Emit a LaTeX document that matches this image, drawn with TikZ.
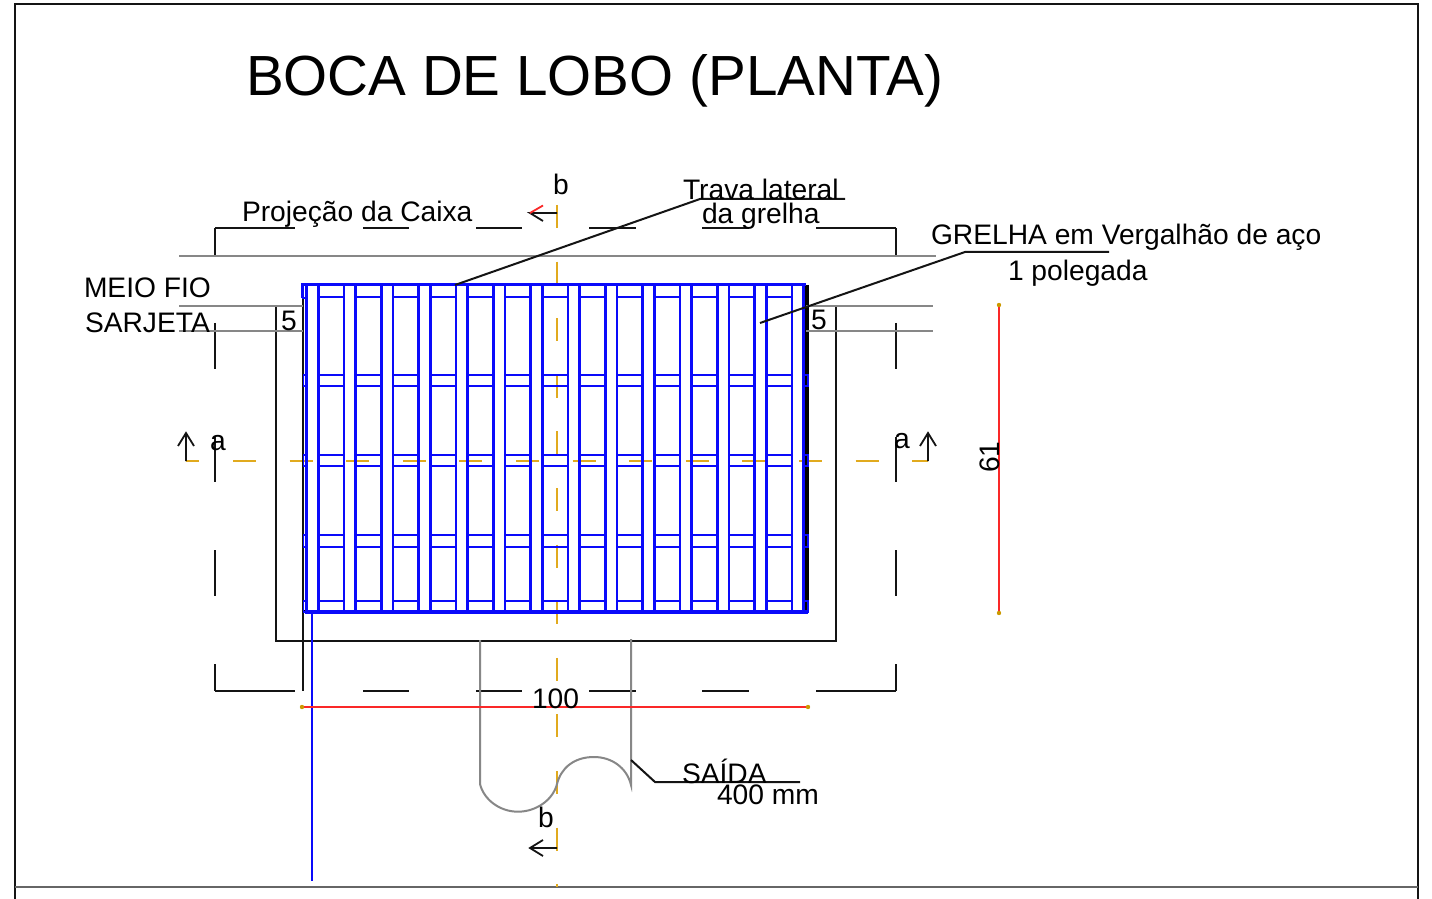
\documentclass[tikz,border=0pt]{standalone}
\usepackage{fontspec}
\setmainfont{Liberation Sans}
\definecolor{cad}{RGB}{20,20,20}
\definecolor{gr}{RGB}{135,135,135}
\definecolor{org}{RGB}{225,170,30}
\definecolor{blu}{RGB}{10,10,250}
\definecolor{redd}{RGB}{250,40,40}
\tikzset{
  blk/.style={draw=cad,line width=1pt},
  gry/.style={draw=gr,line width=1pt},
  blul/.style={draw=blu,line width=1.25pt},
  centre/.style={draw=org,line width=1pt},
  dim/.style={draw=redd,line width=1pt},
  lab/.style={anchor=base west,inner sep=0pt,outer sep=0pt,font=\fontsize{14.1}{14.1}\selectfont,text=black},
  sect/.style={blk,line width=0.9pt},
}
\begin{document}
\begin{tikzpicture}[x=0.5pt,y=-0.5pt,line cap=butt]
\useasboundingbox (0,0) rectangle (1432,899);
\fill[white] (0,0) rectangle (1432,899);
% page frame
\draw[draw=cad,line width=0.55pt] (15,899) -- (15,4) -- (1418,4) -- (1418,899);
\draw[draw=cad!65,line width=1pt] (15,887) -- (1418,887);
% centre lines
\draw[centre,dash pattern=on 11.5pt off 16.8pt] (557,205) -- (557,887);
\draw[centre,dash pattern=on 11.5pt off 16.8pt,dash phase=4.8pt] (186,461) -- (928,461);
% projection (dashed) outline
\foreach \a/\b in {215/295,363/409,476/522,589/636,702/749,816/896}{
  \draw[blk] (\a,228) -- (\b,228);
  \draw[blk] (\a,691) -- (\b,691);
}
\foreach \x in {215,896}{
  \draw[blk] (\x,228) -- (\x,256);
  \foreach \a/\b in {323/369,437/482,550/596,664/691}
    \draw[blk] (\x,\a) -- (\x,\b);
}
% box
\draw[blk] (276,306) -- (276,641) -- (836,641) -- (836,306);
\draw[blk,line width=0.8pt] (303,285) -- (303,691);
\draw[draw=black,line width=2.5pt] (806,285) -- (806,612);
\draw[draw=black,line width=1.25pt] (303,611) -- (806,611);
% grey lines
\draw[gry] (179,256) -- (936,256);
\draw[gry] (179,306) -- (303,306);
\draw[gry] (179,331) -- (303,331);
\draw[gry] (806,306) -- (933,306);
\draw[gry] (806,331) -- (933,331);
% outlet
\draw[gry] (480,640) -- (480,784)
  .. controls (484,800) and (500,811.7) .. (518,811.7)
  .. controls (536,811.7) and (553,800) .. (557,784)
  .. controls (561,768) and (574,757) .. (594,757)
  .. controls (612,757) and (627,768) .. (631,785)
  -- (631,639);
% grating: cross bars
\foreach \k in {0,...,12}{
  \pgfmathsetmacro{\xa}{318+37.33*\k}
  \pgfmathsetmacro{\xb}{\xa+25.5}
  \foreach \y in {297,375,386,455,466,535,547,601}
    \draw[blul] (\xa,\y) -- (\xb,\y);
}
% grating: longitudinal bars
\foreach \k in {0,...,13}{
  \pgfmathsetmacro{\xa}{306.7+37.33*\k}
  \pgfmathsetmacro{\xb}{\xa+11.6}
  \draw[blul] (\xa,285) -- (\xa,612);
  \draw[blul] (\xb,285) -- (\xb,612);
}
% outer frame of grating
\draw[blul,line width=1.5pt] (302,298) -- (302,285) -- (806,285);
\draw[blul,line width=1.7pt] (305,612) -- (808,612);
\draw[blul] (307,298) -- (302,298);
\foreach \ya/\yb in {455/466,535/547,375/386,601/612}{
  \draw[blul,line width=0.7pt] (303.5,\ya) rectangle (306.5,\yb);
  \draw[blul,line width=0.7pt] (803.5,\ya) rectangle (808,\yb);
}
\draw[blul,line width=1pt] (312,612) -- (312,881);
% dimensions
\coordinate (dh1) at (302,707);
\coordinate (dh2) at (808,707);
\coordinate (dv1) at (999,305);
\coordinate (dv2) at (999,613);
\draw[dim] (dh1) -- (dh2);
\draw[dim] (dv1) -- (dv2);
\foreach \c in {dh1,dh2,dv1,dv2}
  \fill[orange!80!green] (\c) circle (2.2);
% section arrows
\coordinate (aL) at (186,461); \coordinate (aLt) at (186,433);
\coordinate (aR) at (928,461); \coordinate (aRt) at (928,433);
\coordinate (bT) at (557,213); \coordinate (bTt) at (530,213);
\coordinate (bB) at (557,848); \coordinate (bBt) at (530,848);
\draw[sect] (aL) -- (aLt) (178,446) -- (aLt) -- (194,446);
\draw[sect] (aR) -- (aRt) (920,446) -- (aRt) -- (936,446);
\draw[sect] (bT) -- (bTt) -- (543,221);
\draw[draw=redd,line width=0.9pt] (bTt) -- (543,205.5);
\draw[sect] (bB) -- (bBt) (543,840) -- (bBt) -- (543,856);
% leaders
\draw[blk] (455,285) -- (700,199) -- (845,199);
\draw[blk] (760,323) -- (965,252) -- (1109,252);
\draw[blk] (631,760) -- (655,782) -- (800,782);
% texts
\node[lab,font=\fontsize{28.3}{28.3}\selectfont] (title) at (246,96) {BOCA DE LOBO (PLANTA)};
\node[lab] (proj) at (242,222) {Projeção da Caixa};
\node[lab] (trava) at (683,200) {Trava lateral};
\node[lab] (grelha) at (702,224) {da grelha};
\node[lab] (gv) at (931,245) {GRELHA em Vergalhão de aço};
\node[lab] (pol) at (1008,281) {1 polegada};
\node[lab] (mf) at (84,298) {MEIO FIO};
\node[lab] (sj) at (85,332) {SARJETA};
\node[lab] (c5a) at (281,330) {5};
\node[lab] (c5b) at (811,329) {5};
\node[lab] (d100) at (532,708) {100};
\node[lab,rotate=90] (d61) at (999,473) {61};
\node[lab] (sa) at (682,783) {SAÍDA};
\node[lab] (mm) at (717,804) {400 mm};
\node[lab] (bt) at (553,195) {b};
\node[lab] (bb) at (538,827) {b};
\node[lab] (al) at (210,451) {a};
\node[lab] (ar) at (894,448) {a};
\end{tikzpicture}
\end{document}
